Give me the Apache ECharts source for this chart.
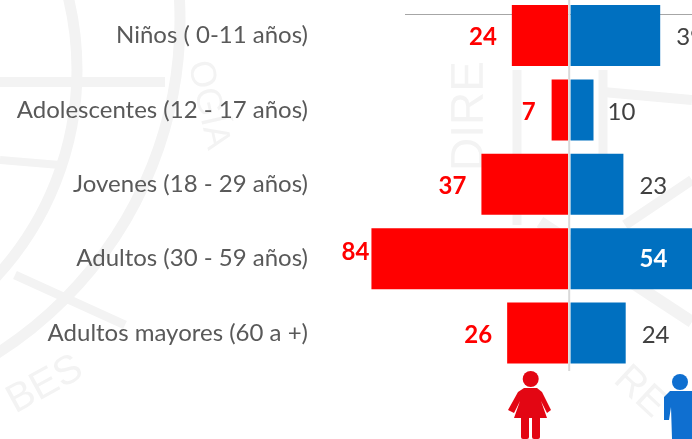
<!DOCTYPE html>
<html><head><meta charset="utf-8">
<style>html,body{margin:0;padding:0;background:#fff}#c{width:692px;height:439px}</style>
<script src="https://cdn.jsdelivr.net/npm/echarts@6/dist/echarts.min.js"></script>
</head><body><div id="c"></div>
<script>
const categories = ['Niños ( 0-11 años)','Adolescentes (12 - 17 años)','Jovenes (18 - 29 años)','Adultos (30 - 59 años)','Adultos mayores (60 a +)'];
const mujeres = [24,7,37,84,26];
const hombres = [39,10,23,54,24];
const FONT = 'Lato, "Open Sans", sans-serif';
const WM = '#f3f3f3';
const redDist = [15,16,15,2,15];
const redLift = [2,2,2,-6,2];
const chart = echarts.init(document.getElementById('c'),null,{renderer:'canvas'});
const wmRing = (cx,cy,r,w)=>({type:'circle',silent:true,z:-10,shape:{cx,cy,r},style:{fill:'none',stroke:WM,lineWidth:w}});
const wmText = (text,x,y,rot,size)=>({type:'text',silent:true,z:-10,x,y,rotation:rot,style:{text,fill:WM,font:size+'px "Liberation Sans"',align:'center',verticalAlign:'middle'}});
const wmLine = (x1,y1,x2,y2,w)=>({type:'line',silent:true,z:-10,shape:{x1,y1,x2,y2},style:{stroke:WM,lineWidth:w}});
chart.setOption({
  animation:false,
  backgroundColor:'#fff',
  grid:[
    {left:334,width:234,top:-1.7,height:372,outerBoundsMode:'none'},
    {left:570.5,width:230,top:-1.7,height:372,outerBoundsMode:'none'}
  ],
  xAxis:[
    {gridIndex:0,type:'value',inverse:true,min:0,max:100,show:false},
    {gridIndex:1,type:'value',min:0,max:100,show:false}
  ],
  yAxis:[
    {gridIndex:0,type:'category',inverse:true,data:categories,axisLine:{show:false},axisTick:{show:false},
     axisLabel:{margin:26,color:'#595959',fontFamily:FONT,fontSize:24,align:'right',padding:[2,0,0,0]}},
    {gridIndex:1,type:'category',inverse:true,data:categories,axisLine:{show:false},axisTick:{show:false},axisLabel:{show:false}}
  ],
  series:[
    {name:'Mujeres',type:'bar',xAxisIndex:0,yAxisIndex:0,barWidth:61,
     itemStyle:{color:'#ff0000'},
     data:mujeres.map((v,i)=>({value:v,label:{distance:redDist[i],offset:[0,redLift[i]]}})),
     label:{show:true,position:'left',color:'#ff0000',fontWeight:'bold',fontFamily:FONT,fontSize:24}},
    {name:'Hombres',type:'bar',xAxisIndex:1,yAxisIndex:1,barWidth:61,
     itemStyle:{color:'#0070c0'},
     data:hombres.map((v)=> v===54
        ? {value:v,label:{position:'insideLeft',distance:69,color:'#ffffff',fontWeight:'bold',offset:[0,1]}}
        : {value:v,label:{distance:v===10?14:16,offset:[0,2]}}),
     label:{show:true,position:'right',color:'#404040',fontFamily:FONT,fontSize:24}}
  ],
  graphic:[
    wmRing(-228,70,305,11), wmRing(-215,20,395,11),
    wmLine(0,82,165,82,10), wmLine(0,160,60,165,8), wmLine(15,275,125,325,9),
    wmText('OGÍA',208,105,-1.35,36), wmText('BES',45,385,0.5,40),
    wmText('DIRE',470,116,1.57,46), wmText('RE',640,392,-0.75,40),
    wmLine(517,70,517,225,9), wmLine(603,70,603,160,9), wmLine(603,92,692,100,10),
    wmLine(540,222,692,322,12), wmLine(625,225,692,180,10),
    {type:'line',silent:true,z:-1,shape:{x1:405,y1:14.5,x2:692,y2:14.5},style:{stroke:'#a6a6a6',lineWidth:1}},
    {type:'line',silent:true,z:5,shape:{x1:569.2,y1:0,x2:569.2,y2:371},style:{stroke:'#d9d9d9',lineWidth:2}},
    // woman pictogram
    {type:'circle',silent:true,shape:{cx:530.7,cy:379,r:8},style:{fill:'#e30613'}},
    {type:'polygon',silent:true,shape:{points:[[524,388],[537,388],[542,392],[551,410],[547,413],[541,401],[547,418],[514,418],[520,401],[514,413],[508,410],[518,392]]},style:{fill:'#e30613'}},
    {type:'rect',silent:true,shape:{x:521,y:416,width:8,height:23,r:2},style:{fill:'#e30613'}},
    {type:'rect',silent:true,shape:{x:532,y:416,width:8,height:23,r:2},style:{fill:'#e30613'}},
    // man pictogram
    {type:'circle',silent:true,shape:{cx:680,cy:382,r:8},style:{fill:'#0f6fd0'}},
    {type:'polygon',silent:true,shape:{points:[[670,391],[692,391],[692,439],[672,439],[671,407],[669,420],[664,420],[664,397]]},style:{fill:'#0f6fd0'}}
  ]
});
</script></body></html>
